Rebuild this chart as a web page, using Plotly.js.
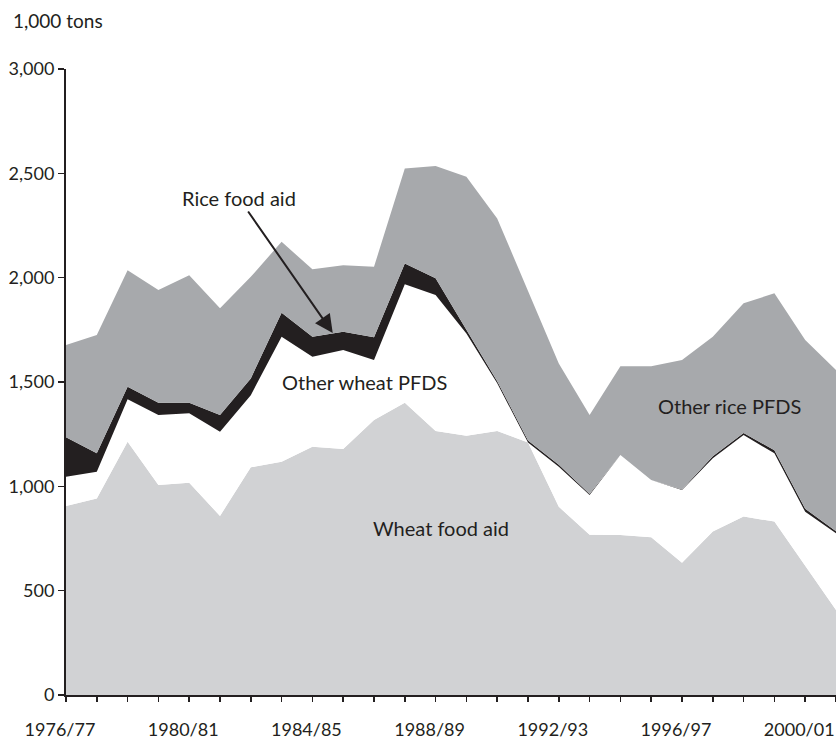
<!DOCTYPE html>
<html>
<head>
<meta charset="utf-8">
<script src="https://cdn.plot.ly/plotly-3.0.1.min.js"></script>
<style>html,body{margin:0;padding:0;background:#fff;}#chart{width:836px;height:740px;}</style>
</head>
<body>
<div id="chart"></div>
<script>
var years = ["1976/77","1977/78","1978/79","1979/80","1980/81","1981/82","1982/83","1983/84","1984/85","1985/86","1986/87","1987/88","1988/89","1989/90","1990/91","1991/92","1992/93","1993/94","1994/95","1995/96","1996/97","1997/98","1998/99","1999/00","2000/01","2001/02"];
var tickLabels = ["1976/77","","","","1980/81","","","","1984/85","","","","1988/89","","","","1992/93","","","","1996/97","","","","2000/01",""];
var wheatFoodAid = [906,942,1214,1006,1017,858,1091,1118,1190,1179,1318,1401,1265,1243,1265,1210,902,768,767,756,634,783,855,831,620,407];
var otherWheatPFDS = [140,128,203,336,333,404,346,599,431,474,287,568,652,490,229,0,192,190,383,274,348,351,391,327,258,368];
var riceFoodAid = [189,88,60,59,51,80,80,115,96,88,109,99,80,15,10,10,10,5,0,0,3,10,10,15,15,10];
var otherRicePFDS = [442,567,559,540,611,511,487,340,323,319,338,455,538,736,780,721,485,379,426,546,620,573,621,752,808,772];

var ink = '#231f20';
var FONT = 'Lato, "Open Sans", sans-serif';

function layer(name, vals, color) {
  return {x: years, y: vals, name: name, type: 'scatter', mode: 'lines',
    stackgroup: 'one', fill: 'tonexty', fillcolor: color,
    line: {width: 0, color: color}, hoverinfo: 'skip'};
}
var data = [
  layer('Wheat food aid', wheatFoodAid, '#d1d2d4'),
  layer('Other wheat PFDS', otherWheatPFDS, '#ffffff'),
  layer('Rice food aid', riceFoodAid, ink),
  layer('Other rice PFDS', otherRicePFDS, '#a7a9ac')
];

var layout = {
  width: 836, height: 740,
  margin: {l: 66, r: 0, t: 69, b: 45},
  paper_bgcolor: '#fff', plot_bgcolor: '#fff',
  showlegend: false,
  font: {family: FONT, size: 18, color: ink},
  xaxis: {type: 'category', range: [0, 25], showgrid: false, zeroline: false,
    showline: true, linecolor: ink, linewidth: 2,
    ticks: 'outside', ticklen: 5, tickwidth: 1.5, tickcolor: ink,
    tickmode: 'array', tickvals: years, ticktext: tickLabels,
    ticklabelstandoff: 12, ticklabelshift: -6,
    tickfont: {family: FONT, size: 18, color: ink}},
  yaxis: {range: [0, 3000], showgrid: false, zeroline: false,
    showline: true, linecolor: ink, linewidth: 2,
    ticks: 'outside', ticklen: 6, tickwidth: 1.5, tickcolor: ink,
    tickvals: [0,500,1000,1500,2000,2500,3000], tickformat: ',',
    tickfont: {family: FONT, size: 18, color: ink}},
  annotations: [
    {xref: 'paper', yref: 'paper', x: -0.072, y: 1.077, xanchor: 'left', yanchor: 'middle',
     text: '1,000 tons', showarrow: false, font: {family: FONT, size: 19, color: ink}},
    {x: 8.66, y: 1735, xref: 'x', yref: 'y', text: 'Rice food aid', showarrow: true,
     ax: -94, ay: -135, arrowhead: 2, arrowsize: 1.8, arrowwidth: 2, arrowcolor: ink,
     font: {family: FONT, size: 20, color: ink}},
    {x: 9.7, y: 1501, xref: 'x', yref: 'y', text: 'Other wheat PFDS', showarrow: false,
     font: {family: FONT, size: 20, color: ink}},
    {x: 21.55, y: 1385, xref: 'x', yref: 'y', text: 'Other rice PFDS', showarrow: false,
     font: {family: FONT, size: 20, color: ink}},
    {x: 12.19, y: 800, xref: 'x', yref: 'y', text: 'Wheat food aid', showarrow: false,
     font: {family: FONT, size: 20, color: ink}}
  ]
};
Plotly.newPlot('chart', data, layout, {displayModeBar: false, staticPlot: true});
</script>
</body>
</html>
